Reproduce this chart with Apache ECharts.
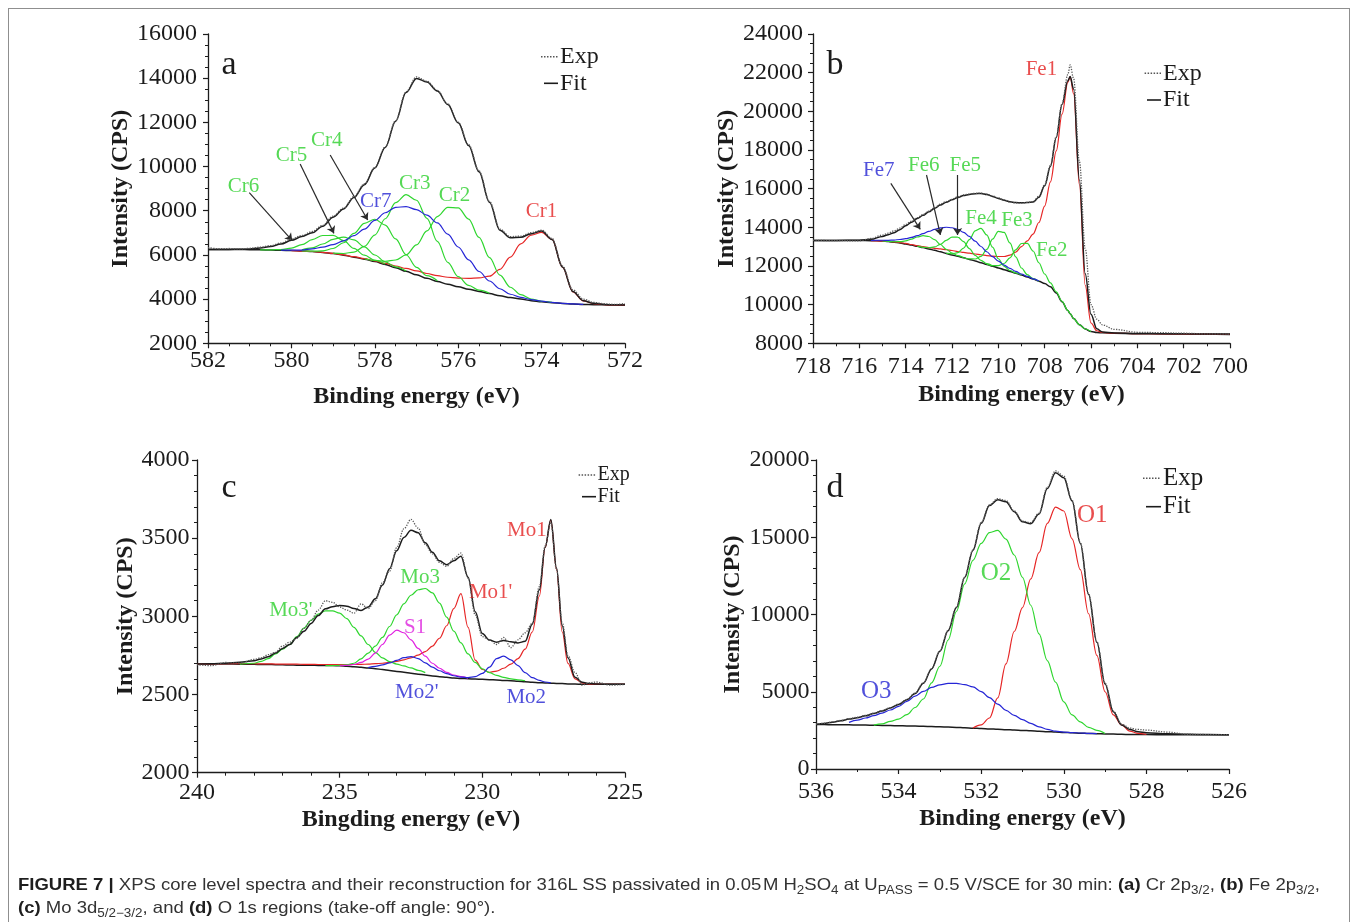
<!DOCTYPE html>
<html><head><meta charset="utf-8">
<script src="https://cdn.jsdelivr.net/npm/echarts@6.0.0/dist/echarts.min.js"></script>
<style>
html,body{margin:0;padding:0;background:#fff;width:1358px;height:922px;overflow:hidden;}
#frame{position:absolute;left:8px;top:8px;width:1342px;height:940px;border:1.5px solid #8f8f8f;box-sizing:border-box;}
#chart{position:absolute;left:0;top:0;width:1358px;height:922px;}
#cap{position:absolute;left:18px;top:873px;font-family:"Liberation Sans",Arial,sans-serif;font-size:16.5px;line-height:23px;color:#333;white-space:nowrap;transform-origin:0 0;}
#cap b{color:#1e1e1e}
#cap sub{font-size:12px;vertical-align:-4px;line-height:0}
</style></head>
<body>
<div id="frame"></div>
<div id="chart"></div>
<div id="cap"><div id="l1"><b>FIGURE 7 |</b> XPS core level spectra and their reconstruction for 316L SS passivated in 0.05&#8202;M H<sub>2</sub>SO<sub>4</sub> at U<sub>PASS</sub> = 0.5 V/SCE for 30 min: <b>(a)</b> Cr 2p<sub>3/2</sub>, <b>(b)</b> Fe 2p<sub>3/2</sub>,</div><div id="l2"><b>(c)</b> Mo 3d<sub>5/2&minus;3/2</sub>, and <b>(d)</b> O 1s regions (take-off angle: 90&deg;).</div></div>
<script>
// ---------------- DATA ----------------
const nul = n => Array(n).fill(null);
// Panel a: Cr 2p3/2
const aE = [582,581.75,581.5,581.25,581,580.75,580.5,580.25,580,579.75,579.5,579.25,579,578.75,578.5,578.25,578,577.75,577.5,577.25,577,576.75,576.5,576.25,576,575.75,575.5,575.25,575,574.75,574.5,574.25,574,573.75,573.5,573.25,573,572.75,572.5,572.25,572];
const aExp = [6330,6280,6290,6270,6300,6350,6420,6540,6720,6880,7060,7340,7760,8120,8640,9220,9960,10890,12080,13390,14060,13860,13450,12840,12010,10990,9800,8420,7170,6830,6850,7010,7120,6750,5500,4420,4000,3850,3790,3760,3800];
const aFit = [6250,6250,6250,6255,6270,6310,6380,6490,6660,6830,7000,7300,7710,8080,8600,9180,9930,10860,12050,13350,13990,13830,13420,12810,11980,10950,9760,8380,7120,6780,6800,6960,7080,6700,5450,4340,3930,3810,3760,3740,3735];
const aBg = [6250,6250,6250,6245,6240,6230,6220,6210,6195,6175,6150,6110,6060,5990,5900,5810,5700,5570,5420,5260,5100,4940,4800,4670,4560,4450,4350,4250,4150,4070,4000,3930,3880,3840,3800,3780,3760,3750,3740,3735,3730];
const aCr1 = [...nul(8),6195,6175,6155,6115,6070,6000,5920,5830,5730,5620,5500,5390,5280,5160,5060,4990,4950,4940,4960,5040,5350,5900,6500,6900,7020,6700,5450,4330,3920,3790,3750,3735,3730];
const aCr2 = [...nul(15),5826,5751,5714,5771,6002,6456,7086,7737,8151,8133,7625,6792,5877,5087,4538,4202,4006,3904,3850,...nul(7)];
const aCr3 = [...nul(12),6080,6065,6129,6387,6900,7638,8364,8727,8476,7658,6610,5667,5014,4621,4403,4264,...nul(13)];
const aCr4 = [...nul(9),6179,6169,6184,6290,6551,6975,7429,7615,7352,6723,6009,5438,5060,4834,...nul(18)];
const aCr5 = [...nul(9),6232,6321,6494,6707,6808,6677,6364,5997,5689,5456,5268,...nul(21)];
const aCr6 = [...nul(5),6232,6228,6244,6310,6463,6693,6880,6881,6646,6294,5988,5760,5585,...nul(23)];
const aCr7 = [...nul(7),6215,6215,6220,6275,6350,6470,6640,6870,7170,7560,7910,8150,8190,8050,7800,7450,6940,6360,5780,5250,4820,4470,4220,4080,3980,3910,3850,3810,3780,3760,...nul(4)];

// Panel b: Fe 2p3/2
const bE = [718,717,716,715.5,715,714.75,714.5,714.25,714,713.75,713.5,713.25,713,712.75,712.5,712.25,712,711.75,711.5,711.25,711,710.75,710.5,710.25,710,709.75,709.5,709.25,709,708.75,708.5,708.25,708,707.75,707.5,707.25,707,706.9,706.75,706.5,706.25,706,705.75,705.5,705,704,703,702,701,700];
const bExp = [13330,13310,13300,13420,13600,13700,13820,13960,14150,14320,14500,14660,14830,15020,15200,15330,15450,15580,15680,15720,15760,15770,15720,15620,15520,15420,15300,15260,15250,15290,15330,15600,16200,17200,18700,20400,21900,22400,21700,17400,12900,10000,9250,8950,8720,8570,8550,8520,8490,8480];
const bFit = [13320,13320,13330,13380,13530,13620,13720,13880,14080,14260,14450,14620,14800,14980,15150,15300,15420,15540,15640,15700,15740,15750,15700,15600,15490,15400,15320,15280,15270,15280,15310,15550,16150,17150,18650,20350,21580,21800,21150,16450,11600,9500,8750,8580,8530,8510,8500,8490,8485,8480];
const bBg = [13320,13320,13320,13310,13290,13260,13230,13190,13140,13080,13020,12950,12880,12810,12730,12650,12570,12500,12420,12340,12260,12170,12080,11990,11900,11810,11720,11630,11530,11430,11320,11210,11090,10920,10600,10150,9700,9530,9280,8960,8740,8610,8560,8540,8520,8500,8490,8480,8470,8460];
const bFe1 = [...nul(3),13310,13295,13270,13245,13210,13165,13110,13055,13000,12950,12915,12880,12840,12800,12750,12700,12660,12620,12580,12540,12510,12490,12490,12560,12720,13000,13300,13650,14250,15100,16350,17950,19850,21500,21800,20900,16200,11000,9050,8650,8560,8520,8500,8490,8480,8470,8460];
const bFe2 = [...nul(22),12087,12022,12014,12129,12420,12835,13163,13168,12774,12167,11585,11121,10664,10166,9703,9532,9280,8960,8740,8610,...nul(8)];
const bFe3 = [...nul(18),12428,12364,12361,12493,12855,13388,13793,13736,13191,12475,11894,11548,11349,11215,...nul(18)];
const bFe4 = [...nul(15),12661,12623,12689,12928,13367,13820,13950,13605,12971,12374,11982,11767,11640,11532,...nul(21)];
const bFe5 = [...nul(10),13024,12967,12942,12986,13119,13327,13496,13495,13261,12898,12552,12290,12119,12000,...nul(26)];
const bFe6 = [...nul(4),13291,13266,13253,13256,13297,13384,13500,13566,13525,13359,13111,12866,12669,12537,12431,...nul(31)];
const bFe7 = [...nul(3),13322,13330,13327,13342,13369,13412,13475,13566,13670,13785,13895,13971,14003,13977,13895,13739,13529,13282,13008,12735,12479,12248,12046,11872,11724,11585,11461,11336,11218,...nul(18)];

// Panel c: Mo 3d
const cE = [240,239.5,239,238.5,238,237.75,237.5,237.25,237,236.75,236.5,236.25,236,235.75,235.5,235.25,235,234.75,234.5,234.25,234,233.75,233.5,233.25,233,232.75,232.5,232.25,232,231.75,231.5,231.25,231,230.75,230.5,230.25,230,229.75,229.5,229.25,229,228.75,228.5,228.25,228,227.8,227.6,227.4,227.2,227,226.75,226.5,226.25,226,225.5,225];
const cExp = [2690,2685,2705,2700,2725,2735,2755,2770,2810,2835,2860,2925,2975,3040,3100,3090,3060,3040,3020,3080,3050,3100,3215,3290,3440,3560,3620,3565,3460,3400,3345,3320,3370,3405,3245,3010,2870,2850,2820,2865,2800,2850,2895,2955,3190,3450,3600,3300,2960,2750,2640,2560,2575,2580,2560,2565];
const cFit = [2695,2697,2700,2706,2716,2728,2742,2765,2795,2820,2865,2905,2955,3005,3048,3062,3070,3065,3050,3038,3060,3112,3200,3305,3420,3505,3550,3535,3470,3410,3355,3330,3355,3385,3250,3030,2890,2848,2835,2845,2838,2830,2840,2950,3170,3440,3620,3310,2940,2735,2610,2578,2570,2567,2565,2565];
const cBg = [2695,2695,2695,2694,2693,2692,2692,2691,2690,2689,2688,2688,2687,2686,2685,2685,2684,2681,2678,2674,2670,2665,2660,2654,2648,2642,2636,2630,2625,2619,2614,2610,2606,2603,2601,2599,2597,2595,2593,2590,2588,2585,2582,2579,2576,2574,2572,2571,2570,2568,2567,2566,2565,2565,2565,2565];
const cMo1 = [2695,2696,2697,2697,2697,2696,2696,2695,2695,2694,2694,2693,2693,2692,2692,2692,2692,2692,2692,2693,2694,2697,2700,2705,2712,2722,2735,2752,2775,2810,2860,2940,3050,3145,2930,2720,2660,2642,2650,2668,2695,2730,2790,2900,3130,3440,3615,3300,2900,2700,2600,2575,2567,2566,2565,2565];
const cMo3p = [...nul(3),2695,2700,2712,2730,2760,2790,2820,2870,2925,2975,3015,3035,3035,3020,2985,2930,2875,2820,2770,2735,2710,2695,2683,2670,2655,2640,...nul(27)];
const cMo3 = [...nul(14),2685,2685,2686,2690,2700,2728,2765,2810,2865,2935,3010,3080,3135,3170,3178,3150,3085,2995,2905,2830,2760,2705,2665,2640,2622,2610,2600,2594,2588,...nul(13)];
const cS1 = [...nul(16),2684,2686,2692,2705,2727,2765,2820,2880,2912,2895,2850,2795,2745,2700,2668,2642,2625,2614,2605,...nul(21)];
const cMo2 = [...nul(20),2672,2680,2690,2702,2718,2736,2743,2730,2703,2675,2652,2634,2620,2611,2608,2614,2635,2675,2730,2745,2722,2685,2640,2608,2590,2580,2574,...nul(9)];

// Panel d: O 1s
const dE = [536,535.8,535.6,535.4,535.2,535,534.8,534.6,534.4,534.2,534,533.8,533.6,533.4,533.2,533,532.8,532.6,532.4,532.2,532,531.8,531.6,531.4,531.2,531,530.8,530.6,530.4,530.2,530,529.8,529.6,529.4,529.2,529,528.8,528.6,528.4,528.2,528,527.5,527,526.5,526];
const dExp = [2900,2960,3050,3140,3260,3350,3470,3610,3780,3970,4200,4500,4910,5580,6500,7650,8980,10480,12420,14180,15950,17100,17500,17380,16700,16050,15950,16560,18230,19300,18950,17400,14650,11350,8250,5550,3750,2900,2650,2560,2520,2390,2250,2230,2220];
const dFit = [2880,2950,3030,3120,3230,3320,3440,3590,3755,3950,4180,4480,4890,5550,6480,7620,8950,10450,12400,14150,15900,17050,17420,17300,16650,16000,15880,16500,18150,19180,18850,17350,14600,11300,8200,5500,3700,2850,2560,2410,2350,2280,2245,2225,2210];
const dBg = [2880,2875,2868,2862,2856,2850,2842,2832,2822,2811,2800,2790,2778,2764,2748,2730,2711,2692,2670,2645,2620,2596,2572,2548,2524,2500,2472,2444,2418,2394,2370,2346,2322,2300,2284,2270,2258,2246,2236,2228,2225,2220,2215,2212,2210];
const dO1 = [...nul(19),2648,2850,3300,4600,6800,8900,10450,12300,14000,15900,16950,16700,14900,12900,10050,7350,5000,3500,2850,2450,2300,2240,...nul(4)];
const dO2 = [...nul(7),2835,2920,3080,3230,3520,3980,4530,5580,6650,8350,10200,11980,13500,14600,15300,15440,14880,13850,12400,10600,8750,7020,5620,4350,3500,3050,2700,2500,2300,...nul(9)];
const dO3 = [...nul(4),3020,3160,3300,3450,3620,3820,4050,4380,4720,5020,5280,5450,5540,5540,5460,5310,5010,4620,4200,3800,3470,3200,2950,2730,2570,2450,2390,2360,2330,2305,2288,...nul(10)];

// Peak labels [text, energy, intensity, colour key] and arrows [fromE, fromI, toE, toI]
const aLabels = [['Cr6',581.15,9120,'g'],['Cr5',580.0,10520,'g'],['Cr4',579.15,11200,'g'],['Cr7',577.98,8440,'b'],['Cr3',577.04,9238,'g'],['Cr2',576.09,8711,'g'],['Cr1',574.0,7957,'r']];
const aArrows = [[581.01,8816,579.98,6650],[579.79,10113,578.98,6976],[579.07,10520,578.17,7580]];
const bLabels = [['Fe1',708.14,22170,'r'],['Fe7',715.16,16930,'b'],['Fe6',713.22,17223,'g'],['Fe5',711.43,17223,'g'],['Fe4',710.75,14431,'g'],['Fe3',709.19,14344,'g'],['Fe2',707.69,12793,'g']];
const bArrows = [[714.64,16275,713.37,13896],[713.1,16706,712.5,13603],[711.76,16706,711.76,13603]];
const cLabels = [['Mo1',228.44,3551,'r'],["Mo1'",229.71,3155,'r'],['Mo3',232.18,3251,'g'],["Mo3'",236.71,3037,'g'],['S1',232.36,2930,'m'],["Mo2'",232.3,2513,'b'],['Mo2',228.46,2480,'b']];
const dLabels = [['O1',529.31,16426,'r'],['O2',531.64,12634,'g'],['O3',534.54,5006,'b']];

// ---------------- STYLE ----------------
const SERIF = '"Liberation Serif","Times New Roman",serif';
const BLACK = '#1c1c1c', GREEN = '#2fd62f', BLUE = '#2626d6', RED = '#e62626', MAG = '#e01fe0';
const LCOL = {g:'#2ccf2c', b:'#2424d2', r:'#e42222', m:'#dd22dd'};

const grids = [
  {left:208, top:34, width:417, height:309.3},
  {left:813, top:34, width:417, height:309.3},
  {left:197, top:460, width:428, height:312.7},
  {left:816, top:460, width:413, height:309}
];

const plain = v => String(v);
function xAx(i,min,max,interval,minorSplit,name,margin,gap){
  return {gridIndex:i,type:'value',min,max,interval,inverse:true,
    axisLine:{show:true,onZero:false,lineStyle:{color:BLACK,width:1.3}},
    axisTick:{show:true,inside:false,length:5,lineStyle:{color:BLACK,width:1.2}},
    minorTick:{show:true,splitNumber:minorSplit,length:3,lineStyle:{color:BLACK,width:1}},
    splitLine:{show:false},minorSplitLine:{show:false},
    axisLabel:{show:true,fontFamily:SERIF,fontSize:24,color:BLACK,margin,showMinLabel:true,showMaxLabel:true,formatter:plain},
    name,nameLocation:'middle',nameGap:gap,
    nameTextStyle:{fontFamily:SERIF,fontSize:24,fontWeight:'bold',color:BLACK}};
}
function yAx(i,min,max,interval,minorSplit,margin,gap){
  return {gridIndex:i,type:'value',min,max,interval,
    axisLine:{show:true,onZero:false,lineStyle:{color:BLACK,width:1.3}},
    axisTick:{show:true,inside:false,length:5,lineStyle:{color:BLACK,width:1.2}},
    minorTick:{show:true,splitNumber:minorSplit,length:3,lineStyle:{color:BLACK,width:1}},
    splitLine:{show:false},minorSplitLine:{show:false},
    axisLabel:{show:true,fontFamily:SERIF,fontSize:24,color:BLACK,margin,showMinLabel:true,showMaxLabel:true,formatter:plain},
    name:'Intensity (CPS)',nameLocation:'middle',nameGap:gap,
    nameTextStyle:{fontFamily:SERIF,fontSize:24,fontWeight:'bold',color:BLACK}};
}

function pairs(E,V){ const out=[]; for(let i=0;i<E.length;i++){ if(V[i]!=null) out.push([E[i],V[i]]); } return out; }
function line(gi,E,V,color,width,type,z){
  return {type:'line',xAxisIndex:gi,yAxisIndex:gi,data:pairs(E,V),showSymbol:false,symbol:'none',
    smooth:0.35,smoothMonotone:'x',lineStyle:{color,width,type},z,silent:true,animation:false};
}
function labelSeries(gi,labels,arrows,size){
  return {type:'scatter',xAxisIndex:gi,yAxisIndex:gi,symbolSize:1,itemStyle:{color:'rgba(0,0,0,0)'},silent:true,z:20,
    data:labels.map(l=>({name:l[0],value:[l[1],l[2]],label:{color:LCOL[l[3]]}})),
    label:{show:true,position:'inside',formatter:'{b}',fontFamily:SERIF,fontSize:size},
    markLine:{silent:true,animation:false,symbol:['none','arrow'],symbolSize:7,
      lineStyle:{color:'#2a2a2a',width:1.2,type:'solid'},label:{show:false},
      data:arrows.map(a=>[{coord:[a[0],a[1]]},{coord:[a[2],a[3]]}])}};
}

const series = [];
function panel(gi,E,exp,fit,bg,comps,labels,arrows,size){
  series.push(line(gi,E,bg,BLACK,1.5,'solid',2));
  comps.forEach(c=>series.push(line(gi,E,c[0],c[1],1.2,'solid',3)));
  series.push(line(gi,E,fit,BLACK,1.5,'solid',4));
  series.push(line(gi,E,exp,'#5a5a5a',1.3,'dotted',5));
  series.push(labelSeries(gi,labels,arrows,size));
}
panel(0,aE,aExp,aFit,aBg,[[aCr1,RED],[aCr2,GREEN],[aCr3,GREEN],[aCr4,GREEN],[aCr5,GREEN],[aCr6,GREEN],[aCr7,BLUE]],aLabels,aArrows,21);
panel(1,bE,bExp,bFit,bBg,[[bFe1,RED],[bFe2,GREEN],[bFe3,GREEN],[bFe4,GREEN],[bFe5,GREEN],[bFe6,GREEN],[bFe7,BLUE]],bLabels,bArrows,21);
panel(2,cE,cExp,cFit,cBg,[[cMo1,RED],[cMo3p,GREEN],[cMo3,GREEN],[cS1,MAG],[cMo2,BLUE]],cLabels,[],21);
panel(3,dE,dExp,dFit,dBg,[[dO1,RED],[dO2,GREEN],[dO3,BLUE]],dLabels,[],25);

function txt(x,y,text,size,align){
  return {type:'text',x,y,silent:true,z:30,style:{text,font:`normal ${size}px ${SERIF}`,fill:BLACK,textAlign:align||'left',textVerticalAlign:'middle'}};
}
function seg(x1,y1,x2,y2,dotted){
  return {type:'line',silent:true,z:30,shape:{x1,y1,x2,y2},
    style:{stroke:dotted?'#555':BLACK,lineWidth:dotted?1.4:1.6,lineDash:dotted?[1.5,1.5]:null}};
}
const graphic = [
  txt(229,65.5,'a',34,'center'), txt(835,65.5,'b',34,'center'),
  txt(229,488.5,'c',34,'center'), txt(835,488.5,'d',34,'center'),
  seg(541,56.7,558,56.7,true), txt(560,56.7,'Exp',24), seg(544,83.3,558,83.3,false), txt(560,83.3,'Fit',24),
  seg(1144.6,73.3,1161,73.3,true), txt(1163,73.3,'Exp',24), seg(1147,100,1161,100,false), txt(1163,100,'Fit',24),
  seg(578.6,475,596,475,true), txt(597.6,475,'Exp',20), seg(582,496.7,596,496.7,false), txt(597.6,496.7,'Fit',20),
  seg(1143,478.3,1161,478.3,true), txt(1163,478.3,'Exp',25), seg(1146,506.7,1161,506.7,false), txt(1163,506.7,'Fit',25)
];

const option = {
  animation:false,
  grid: grids.map(g=>Object.assign({containLabel:false,outerBoundsMode:'none',show:false},g)),
  xAxis:[
    xAx(0,572,582,2,4,'Binding energy (eV)',5,41.7),
    xAx(1,700,718,2,2,'Binding energy (eV)',11,39.7),
    xAx(2,225,240,5,5,'Bingding energy (eV)',8,35.3),
    xAx(3,526,536,2,2,'Binding energy (eV)',11,38)
  ],
  yAxis:[
    yAx(0,2000,16000,2000,4,11,68.5),
    yAx(1,8000,24000,2000,4,10,69),
    yAx(2,2000,4000,500,5,7.4,57),
    yAx(3,0,20000,5000,5,6.4,71.7)
  ],
  series, graphic
};
const chart = echarts.init(document.getElementById('chart'),null,{renderer:'canvas'});
chart.setOption(option);

// fit caption line width to the reference
const l1 = document.getElementById('l1');
const w = l1.getBoundingClientRect().width;
document.getElementById('cap').style.transform = `scaleX(${1302/w})`;
</script>
</body></html>
